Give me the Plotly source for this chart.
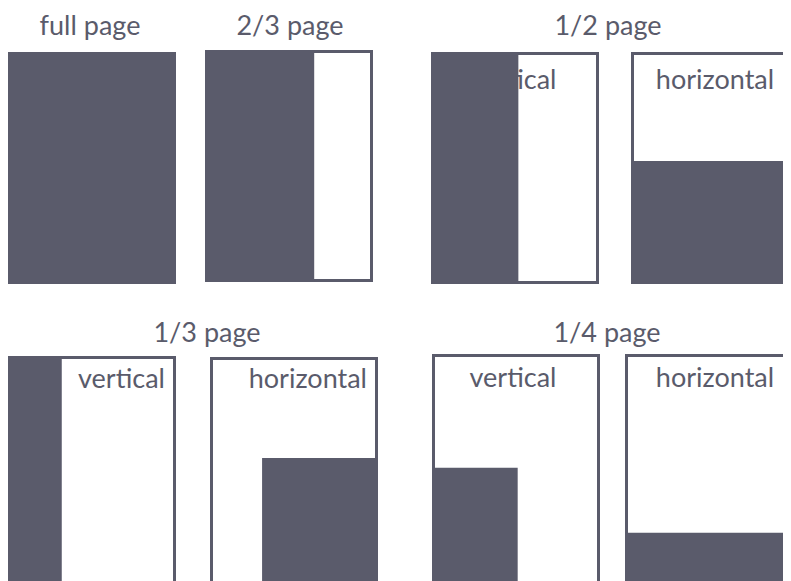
import plotly.graph_objects as go

# ---- data: ad sizes and how much of the page each fills ----
group_titles = ["full page", "2/3 page", "1/2 page", "1/3 page", "1/4 page"]
panel_labels = ["", "", "vertical", "horizontal", "vertical", "horizontal", "vertical", "horizontal"]
fill_width_frac = [1.0, 0.65, 0.52, 1.0, 0.32, 0.69, 0.51, 1.0]
fill_height_frac = [1.0, 1.0, 1.0, 0.53, 1.0, 0.565, 0.51, 0.23]

# ---- layout (pixel-like coordinate system, compensating 8px page margin) ----
W, H = 791, 581
OFF = 8
BOX_W, BOX_H = 168, 232
panel_x = [8, 205, 431, 631, 8, 210, 432, 625]
panel_y = [52, 50, 52, 52, 356, 357, 354, 354]
outlined = [False, True, True, True, True, True, True, True]
label_pos = [None, None, (513, 82, "center"), (715, 82, "center"),
             (165, 381, "right"), (367, 381, "right"),
             (513, 380, "center"), (715, 380, "center")]
title_pos = [(90, 28), (290, 28), (608, 28), (207, 335), (607, 335)]

INK = "#5a5b6b"
FONT = "Lato, 'Noto Sans', sans-serif"
FS = 27

fig = go.Figure()
shapes = []

for i in range(len(panel_x)):
    x0, y0 = panel_x[i], panel_y[i]
    x1, y1 = x0 + BOX_W, y0 + BOX_H
    if outlined[i]:
        shapes.append(dict(type="rect", xref="x", yref="y", x0=x0 + 1.5, x1=x1 - 1.5,
                           y0=y0 + 1.5, y1=y1 - 1.5, line=dict(color=INK, width=3),
                           fillcolor="rgba(0,0,0,0)", layer="above"))
    fw = BOX_W * fill_width_frac[i]
    fh = BOX_H * fill_height_frac[i]
    if i == 5:  # 1/3 horizontal: bottom-right block
        fx0, fx1 = x1 - fw, x1
    else:
        fx0, fx1 = x0, x0 + fw
    fy0, fy1 = y1 - fh, y1
    shapes.append(dict(type="rect", xref="x", yref="y", x0=fx0, x1=fx1, y0=fy0, y1=fy1,
                       line=dict(width=0), fillcolor=INK, layer="above"))

for i, lab in enumerate(panel_labels):
    if not lab:
        continue
    lx, ly, al = label_pos[i]
    fig.add_trace(go.Scatter(x=[lx], y=[ly], mode="text", text=[lab],
                             textposition="middle left" if al == "right" else "middle center",
                             textfont=dict(family=FONT, size=FS, color=INK),
                             cliponaxis=False, hoverinfo="skip", showlegend=False))

for t, (tx, ty) in zip(group_titles, title_pos):
    fig.add_trace(go.Scatter(x=[tx], y=[ty], mode="text", text=[t],
                             textposition="middle center",
                             textfont=dict(family=FONT, size=FS, color=INK),
                             cliponaxis=False, hoverinfo="skip", showlegend=False))

fig.update_layout(
    width=W, height=H, margin=dict(l=0, r=0, t=0, b=0),
    paper_bgcolor="white", plot_bgcolor="white", shapes=shapes,
    xaxis=dict(range=[OFF, W + OFF], visible=False, fixedrange=True),
    yaxis=dict(range=[H + OFF, OFF], visible=False, fixedrange=True),
    showlegend=False,
)
fig.write_html("out.html")
